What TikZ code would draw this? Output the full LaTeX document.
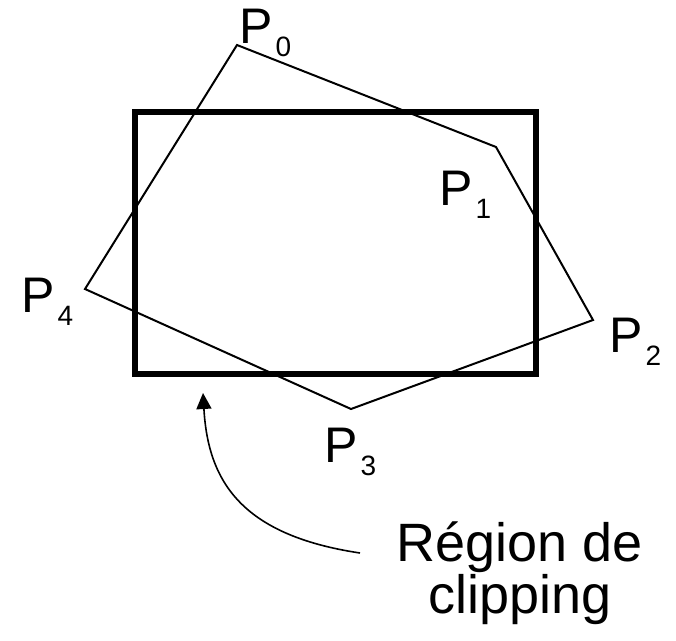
\documentclass[tikz,border=0pt]{standalone}
\usepackage{fontspec}
\setmainfont{Liberation Sans}
\usetikzlibrary{arrows.meta}
\newcommand{\plab}[1]{\fontsize{50}{50}\selectfont P\hspace{3pt}\raisebox{-13.5pt}{\fontsize{28}{28}\selectfont #1}}
\tikzset{
  clipbox/.style={line width=5.5pt, line cap=butt},
  poly/.style={line width=2pt, line join=miter},
  plabel/.style={anchor=base west, inner sep=0pt},
  pointer/.style={line width=1.6pt, -{Triangle[length=16pt,width=15pt]}},
  caption/.style={align=center, inner sep=0pt, font=\fontsize{54}{48}\selectfont}
}
\begin{document}
\begin{tikzpicture}[x=1pt,y=-1pt]
\useasboundingbox (0,0) rectangle (676,640);
% clipping rectangle
\draw[clipbox] (135,112) rectangle (536,374);
% polygon
\coordinate (p0) at (237,45);
\coordinate (p1) at (496,147);
\coordinate (p2) at (593,320);
\coordinate (p3) at (351,409);
\coordinate (p4) at (85,289);
\draw[poly] (p0) -- (p1) -- (p2) -- (p3) -- (p4) -- cycle;
% labels
\node[plabel] (l0) at (239,43) {\plab{0}};
\node[plabel] (l1) at (439,205) {\plab{1}};
\node[plabel] (l2) at (609,352) {\plab{2}};
\node[plabel] (l3) at (324,462) {\plab{3}};
\node[plabel] (l4) at (21,312) {\plab{4}};
% caption and pointer
\node[caption, anchor=base] (cap) at (520,613) {Région de\\clipping};
\coordinate (as) at (360,553);
\coordinate (ae) at (203,393);
\draw[pointer] (as) .. controls (240,535) and (208,480) .. (ae);
\end{tikzpicture}
\end{document}
